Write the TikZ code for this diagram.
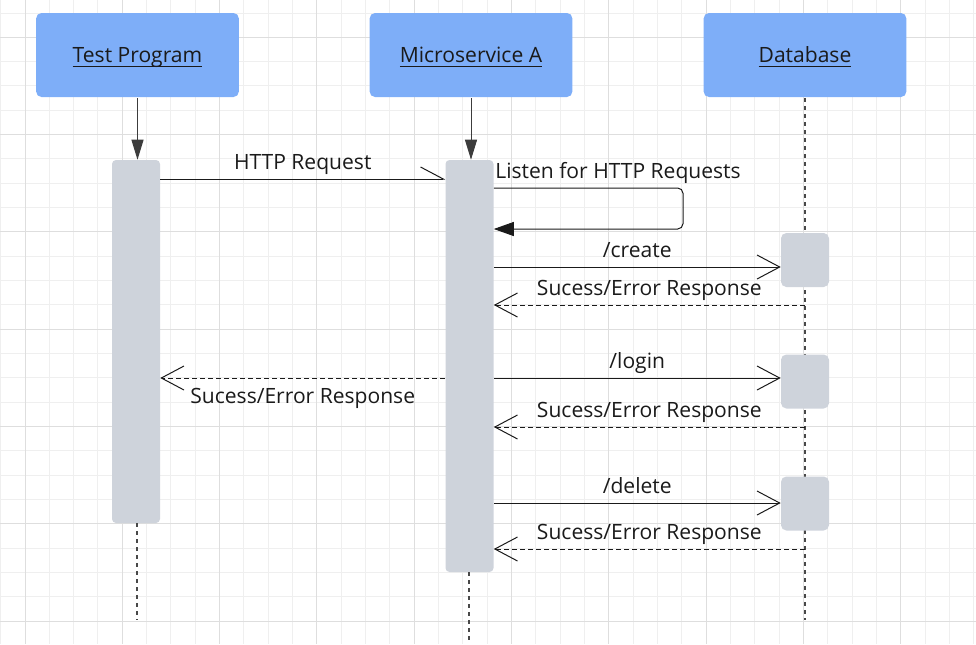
\documentclass[tikz,border=0pt]{standalone}
\usepackage{fontspec}
\setmainfont{Open Sans}
\usetikzlibrary{arrows.meta,positioning}

\definecolor{headblue}{HTML}{7EAEF8}
\definecolor{bargray}{HTML}{CED3DB}
\definecolor{gridminor}{HTML}{EFEFEF}
\definecolor{gridmajor}{HTML}{DEDEDE}
\definecolor{inkdark}{HTML}{1A1A1A}

% underlined header text, rule at a fixed depth
\newcommand{\headlabel}[1]{\setbox0\hbox{#1}\rlap{\copy0}\rule[-3.4pt]{\wd0}{0.8pt}}

\tikzset{
  header/.style={rectangle, rounded corners=4pt, fill=headblue, text=inkdark,
    minimum width=152pt, minimum height=63pt, text height=11.2pt, text depth=0pt},
  actbar/.style={rectangle, rounded corners=3pt, fill=bargray, minimum width=36pt},
  dbbox/.style={rectangle, rounded corners=4pt, fill=bargray,
    minimum width=36pt, minimum height=40.5pt},
  lifeline/.style={line width=1.2pt, dash pattern=on 3pt off 3pt, color=inkdark!80},
  msg/.style={line width=0.75pt, color=inkdark,
    -{Straight Barb[length=17pt, width=18pt, line width=0.75pt]}},
  reply/.style={msg, dash pattern=on 3.75pt off 2.25pt},
  lbl/.style={text=inkdark, text height=11.5pt, text depth=3pt, inner sep=3.75pt},
  lblbelow/.style={text=inkdark, text height=12pt, text depth=3pt, inner sep=6.75pt}
}

\begin{document}
\begin{tikzpicture}
  [x=0.75pt, y=-0.75pt, font=\fontsize{15.8}{19}\selectfont]
  \useasboundingbox (0,0) rectangle (976,644);

  % grid
  \begin{scope}
    \clip (0,0) rectangle (976,644);
    \foreach \i in {0,...,40}
      \draw[gridminor, line width=0.75pt] (0.67+\i*24.33, 0) -- ++(0,644);
    \foreach \i in {0,...,26}
      \draw[gridminor, line width=0.75pt] (0, 13+\i*24.33) -- ++(976,0);
    \foreach \i in {0,...,9}
      \draw[gridmajor, line width=0.75pt] (25+\i*97.32, 0) -- ++(0,644);
    \foreach \i in {0,...,6}
      \draw[gridmajor, line width=0.75pt] (0, 37.3+\i*97.32) -- ++(976,0);
  \end{scope}

  % lifelines
  \node[header] (tp) at (137.5, 55) {\headlabel{Test Program}};
  \node[header] (ma) at (471, 55) {\headlabel{Microservice A}};
  \node[header] (db) at (805, 55) {\headlabel{Database}};

  \coordinate (tpend) at (137, 620);
  \coordinate (maend) at (469, 644);
  \coordinate (dbend) at (805, 620);

  \draw[lifeline] (805, 98) -- (dbend);

  \node[actbar, minimum height=272.25pt] (tpbar) at (136, 341.5) {};
  \node[actbar, minimum height=309pt] (mabar) at (469.5, 366) {};
  \node[dbbox] (db1) at (805, 260) {};
  \node[dbbox] (db2) at (805, 381.5) {};
  \node[dbbox] (db3) at (805, 503.5) {};

  \draw[lifeline] (tpbar.south -| tpend) -- (tpend);
  \draw[lifeline] (mabar.south -| maend) -- (maend);

  \foreach \from/\to in {tp/tpbar,ma/mabar}
  \draw[inkdark!85, line width=0.75pt, -{Triangle[length=15pt, width=9pt]}]
    (\from.south |- 0,98) -- (\from.south |- \to.north);

  % messages
  \draw[msg, -{Straight Barb[harpoon, length=17pt, width=18pt, line width=0.75pt]}]
    (tpbar.east |- 0,179) -- node[lbl, above] {HTTP Request} (mabar.west |- 0,179);

  \node[text=inkdark, anchor=base west, inner sep=1pt] (listen) at (mabar.east |- 0,178)
    {Listen for HTTP Requests};
  \draw[line width=0.75pt, color=inkdark, rounded corners=4pt,
    -{Triangle[length=15pt, width=10.5pt]}]
    (mabar.east |- 0,188) -| (683, 229) -- (mabar.east |- 0,229);

  \draw[msg] (mabar.east |- 0,267) -- node[lbl, above] {/create} (db1.west |- 0,267);
  \draw[reply] (db1.south |- 0,305) -- node[lbl, above] {Sucess/Error Response}
    (mabar.east |- 0,305);

  \draw[reply] (mabar.west |- 0,378) -- node[lblbelow, below] {Sucess/Error Response}
    (tpbar.east |- 0,378);

  \draw[msg] (mabar.east |- 0,378) -- node[lbl, above] {/login} (db2.west |- 0,378);
  \draw[reply] (db2.south |- 0,427) -- node[lbl, above] {Sucess/Error Response}
    (mabar.east |- 0,427);

  \draw[msg] (mabar.east |- 0,503) -- node[lbl, above] {/delete} (db3.west |- 0,503);
  \draw[reply] (db3.south |- 0,549) -- node[lbl, above] {Sucess/Error Response}
    (mabar.east |- 0,549);
\end{tikzpicture}
\end{document}
